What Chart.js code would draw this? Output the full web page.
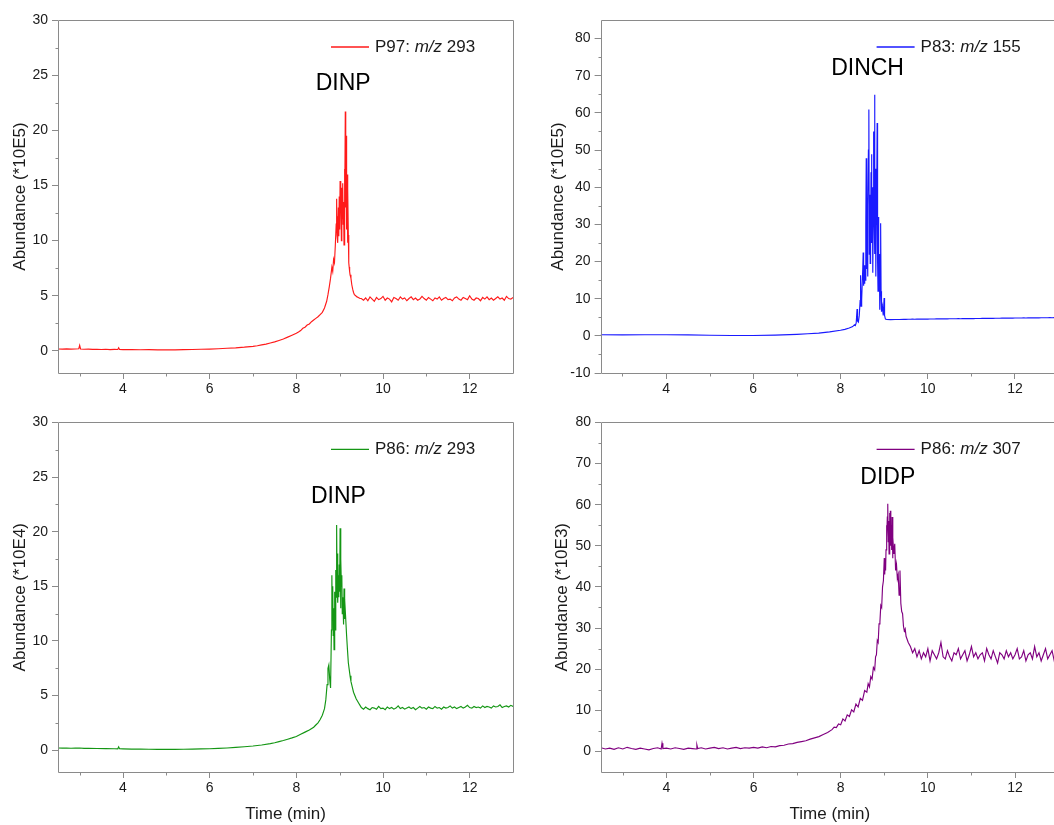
<!DOCTYPE html>
<html><head><meta charset="utf-8">
<script src="https://cdn.jsdelivr.net/npm/chart.js@4.4.1/dist/chart.umd.min.js"></script>
<style>
html,body{margin:0;padding:0;background:#fff;overflow:hidden;width:1054px;height:825px;position:relative;}
canvas{position:absolute;}
</style></head><body>
<canvas id="c1" width="527" height="410" style="left:0px;top:0px"></canvas>
<canvas id="c2" width="540" height="410" style="left:527px;top:0px"></canvas>
<canvas id="c3" width="527" height="415" style="left:0px;top:410px"></canvas>
<canvas id="c4" width="540" height="415" style="left:527px;top:410px"></canvas>
<script>
// ---------- DATA ----------
const legendLabels = ["P97: m/z 293", "P83: m/z 155", "P86: m/z 293", "P86: m/z 307"];
const peakNames = ["DINP", "DINCH", "DINP", "DIDP"];
const yTitles = ["Abundance (*10E5)", "Abundance (*10E5)", "Abundance (*10E4)", "Abundance (*10E3)"];
const xTitle = "Time (min)";
const xMajorTicks = [4, 6, 8, 10, 12];
const xMinorTicks = [3, 5, 7, 9, 11];
const yTicks30 = [0, 5, 10, 15, 20, 25, 30];
const yMinor30 = [2.5, 7.5, 12.5, 17.5, 22.5, 27.5];
const yTicks80neg = [-10, 0, 10, 20, 30, 40, 50, 60, 70, 80];
const yMinor80neg = [-5, 5, 15, 25, 35, 45, 55, 65, 75];
const yTicks80 = [0, 10, 20, 30, 40, 50, 60, 70, 80];
const yMinor80 = [5, 15, 25, 35, 45, 55, 65, 75];

// shared time grid of the plateau after the peak (min)
const plateauTime = [9.50,9.55,9.60,9.65,9.70,9.75,9.80,9.85,9.90,9.95,
10.00,10.05,10.10,10.15,10.20,10.25,10.30,10.35,10.40,10.45,
10.50,10.55,10.60,10.65,10.70,10.75,10.80,10.85,10.90,10.95,
11.00,11.05,11.10,11.15,11.20,11.25,11.30,11.35,11.40,11.45,
11.50,11.55,11.60,11.65,11.70,11.75,11.80,11.85,11.90,11.95,
12.00,12.05,12.10,12.15,12.20,12.25,12.30,12.35,12.40,12.45,
12.50,12.55,12.60,12.65,12.70,12.75,12.80,12.85,12.90,12.95,
13.00];

// P97 m/z 293 (x10E5): [time, abundance] up to 9.47 min
const p97Trace = [[2.5,0.18],[2.6,0.17],[2.7,0.19],[2.8,0.16],[2.9,0.18],[2.98,0.2],[3.0,0.5],[3.02,0.18],[3.1,0.15],[3.2,0.16],[3.3,0.14],[3.4,0.15],[3.5,0.13],[3.6,0.15],[3.7,0.12],[3.8,0.14],[3.88,0.13],[3.9,0.28],[3.92,0.13],[4.0,0.12],[4.2,0.13],[4.4,0.11],[4.6,0.12],[4.8,0.1],[5.0,0.11],[5.2,0.1],[5.4,0.12],[5.6,0.13],[5.8,0.15],[6.0,0.17],[6.2,0.2],[6.4,0.24],[6.6,0.28],[6.8,0.34],[7.0,0.42],[7.1,0.47],[7.2,0.55],[7.3,0.62],[7.4,0.72],[7.5,0.82],[7.6,0.95],[7.7,1.08],[7.8,1.25],[7.9,1.42],[8.0,1.6],[8.05,1.72],[8.1,1.85],[8.15,2.05],[8.2,2.15],[8.25,2.35],[8.3,2.45],[8.35,2.65],[8.4,2.8],[8.45,2.95],[8.5,3.1],[8.55,3.3],[8.6,3.5],[8.65,3.9],[8.7,4.5],[8.73,5.1],[8.76,5.8],[8.79,6.6],[8.82,7.6],[8.84,7.2],[8.86,8.3],[8.88,8.0],[8.9,9.6],[8.92,11.5],[8.93,13.8],[8.94,10.5],[8.95,12.2],[8.96,9.8],[8.97,13.0],[8.98,10.4],[8.99,14.0],[9.0,11.0],[9.01,15.4],[9.02,12.5],[9.03,13.8],[9.04,10.0],[9.05,14.8],[9.06,12.0],[9.07,15.2],[9.08,11.5],[9.09,13.5],[9.1,9.6],[9.11,16.5],[9.12,12.0],[9.13,21.7],[9.14,13.0],[9.15,19.5],[9.16,11.0],[9.17,16.0],[9.18,9.8],[9.19,14.7],[9.2,10.5],[9.21,8.0],[9.22,7.6],[9.23,7.2],[9.24,6.9],[9.26,6.6],[9.28,6.0],[9.3,5.6],[9.32,5.3],[9.34,5.1],[9.37,5.0],[9.4,4.9],[9.43,4.85],[9.47,4.75]];
const p97Plateau = [4.75,4.6,4.8,4.55,4.9,4.7,4.5,4.85,4.65,4.75,4.95,4.6,4.8,4.7,4.45,4.85,4.75,4.6,4.9,4.7,4.8,4.55,4.75,4.9,4.65,4.8,4.6,4.7,4.95,4.75,4.6,4.85,4.7,4.55,4.8,4.7,4.9,4.6,4.75,4.85,4.65,4.7,4.55,4.8,4.9,4.7,4.6,4.85,4.75,4.65,5.0,4.7,4.6,4.8,4.75,4.55,4.85,4.7,4.9,4.65,4.8,4.6,4.75,4.9,4.7,4.8,4.6,4.95,4.75,4.7,4.85];

// P83 m/z 155 (x10E5)
const p83Trace = [[2.5,0.3],[3.0,0.25],[3.5,0.3],[4.0,0.3],[4.5,0.25],[5.0,0.15],[5.5,0.1],[6.0,0.1],[6.5,0.2],[7.0,0.4],[7.25,0.55],[7.5,0.75],[7.75,1.05],[8.0,1.5],[8.1,1.75],[8.2,2.1],[8.28,2.5],[8.32,3.0],[8.34,2.8],[8.36,3.5],[8.38,7.2],[8.39,4.0],[8.41,3.7],[8.43,5.5],[8.45,9.5],[8.46,16.3],[8.47,8.0],[8.48,12.0],[8.49,9.8],[8.51,18.0],[8.52,22.4],[8.53,13.5],[8.54,16.5],[8.55,14.0],[8.56,19.0],[8.57,15.0],[8.58,30.0],[8.59,47.8],[8.6,18.0],[8.61,25.0],[8.62,16.0],[8.63,35.0],[8.64,50.0],[8.65,60.9],[8.66,22.0],[8.67,38.0],[8.68,19.5],[8.69,28.0],[8.7,44.0],[8.71,48.9],[8.72,25.0],[8.73,40.0],[8.74,17.0],[8.75,30.0],[8.76,55.0],[8.77,35.0],[8.78,64.9],[8.79,22.0],[8.8,45.0],[8.81,16.0],[8.82,30.0],[8.83,38.0],[8.84,57.3],[8.85,20.0],[8.86,12.0],[8.87,32.0],[8.88,15.0],[8.89,22.0],[8.9,7.0],[8.91,14.0],[8.92,30.3],[8.93,12.0],[8.94,6.5],[8.96,8.0],[8.98,5.5],[9.0,10.2],[9.01,5.5],[9.03,4.5],[9.06,4.4],[9.15,4.35],[9.25,4.4],[9.35,4.4],[9.45,4.45]];
const p83Plateau = [4.45,4.47,4.46,4.48,4.47,4.49,4.5,4.49,4.51,4.52,4.51,4.53,4.54,4.53,4.55,4.56,4.55,4.57,4.58,4.57,4.59,4.6,4.59,4.61,4.62,4.61,4.63,4.64,4.63,4.65,4.66,4.65,4.67,4.68,4.67,4.69,4.7,4.69,4.71,4.72,4.71,4.73,4.74,4.73,4.75,4.76,4.75,4.77,4.78,4.77,4.79,4.8,4.79,4.81,4.82,4.81,4.83,4.84,4.83,4.85,4.86,4.85,4.87,4.88,4.87,4.88,4.89,4.88,4.9,4.89,4.9];

// P86 m/z 293 (x10E4)
const p86aTrace = [[2.5,0.2],[2.6,0.18],[2.7,0.2],[2.8,0.17],[2.9,0.19],[3.0,0.2],[3.1,0.16],[3.2,0.17],[3.4,0.15],[3.6,0.14],[3.8,0.13],[3.88,0.12],[3.9,0.3],[3.92,0.13],[4.0,0.12],[4.2,0.1],[4.4,0.09],[4.6,0.08],[4.8,0.07],[5.0,0.08],[5.2,0.07],[5.4,0.08],[5.6,0.09],[5.8,0.11],[6.0,0.13],[6.2,0.16],[6.4,0.2],[6.6,0.25],[6.8,0.31],[7.0,0.38],[7.2,0.47],[7.4,0.6],[7.5,0.68],[7.6,0.78],[7.7,0.88],[7.8,1.0],[7.9,1.12],[8.0,1.25],[8.1,1.45],[8.2,1.65],[8.3,1.85],[8.4,2.1],[8.45,2.3],[8.5,2.5],[8.55,2.8],[8.6,3.2],[8.65,3.8],[8.68,4.6],[8.71,6.0],[8.73,7.5],[8.75,7.8],[8.77,6.5],[8.79,5.7],[8.81,11.0],[8.82,16.0],[8.83,12.0],[8.84,15.0],[8.85,10.5],[8.86,13.0],[8.87,9.2],[8.88,12.5],[8.89,14.5],[8.9,11.0],[8.91,16.5],[8.92,14.0],[8.93,20.6],[8.94,15.5],[8.95,18.0],[8.96,13.5],[8.97,16.0],[8.98,14.0],[8.99,17.0],[9.0,14.5],[9.01,20.3],[9.02,13.0],[9.03,17.5],[9.04,15.0],[9.05,16.0],[9.06,12.5],[9.07,14.0],[9.08,13.0],[9.09,11.5],[9.1,14.8],[9.11,12.0],[9.12,13.8],[9.14,12.0],[9.16,10.5],[9.18,9.2],[9.2,8.0],[9.22,7.4],[9.24,6.8],[9.26,6.3],[9.29,5.8],[9.32,5.3],[9.35,5.0],[9.38,4.7],[9.41,4.5],[9.44,4.3],[9.47,4.1]];
const p86aPlateau = [3.9,3.75,3.95,3.8,3.7,3.9,3.85,3.75,4.0,3.8,3.85,3.7,3.95,3.8,3.9,3.75,3.85,4.05,3.8,3.9,3.75,3.85,3.95,3.8,3.9,3.7,3.85,4.0,3.85,3.9,3.75,3.95,3.85,3.8,4.0,3.85,3.9,3.75,3.95,3.85,3.9,4.05,3.85,3.95,3.8,3.9,4.0,3.85,3.95,4.1,3.9,3.85,4.0,3.9,3.95,3.85,4.05,3.9,4.0,3.95,3.85,4.05,3.95,4.0,4.15,3.9,4.0,4.05,3.95,4.1,4.0];

// P86 m/z 307 (x10E3)
const p86bTrace = [[2.5,0.9],[2.6,0.6],[2.7,0.8],[2.8,0.5],[2.9,0.9],[3.0,0.6],[3.1,1.0],[3.2,0.7],[3.3,0.5],[3.4,0.8],[3.5,0.6],[3.6,0.4],[3.7,0.7],[3.8,0.9],[3.88,0.6],[3.9,2.0],[3.92,0.7],[4.0,0.8],[4.1,0.6],[4.2,0.9],[4.3,0.7],[4.4,0.5],[4.5,0.8],[4.6,0.7],[4.68,0.6],[4.7,1.6],[4.72,0.7],[4.8,0.9],[4.9,0.6],[5.0,0.8],[5.1,1.0],[5.2,0.7],[5.3,0.9],[5.4,0.6],[5.5,0.8],[5.6,1.0],[5.7,0.7],[5.8,0.9],[5.9,0.8],[6.0,1.0],[6.1,0.8],[6.2,1.1],[6.3,0.9],[6.4,1.2],[6.5,1.1],[6.6,1.4],[6.7,1.5],[6.8,1.8],[6.9,1.9],[7.0,2.2],[7.1,2.4],[7.2,2.6],[7.3,3.0],[7.4,3.3],[7.5,3.6],[7.6,4.1],[7.7,4.6],[7.8,5.3],[7.85,5.9],[7.9,5.8],[7.95,6.7],[8.0,6.5],[8.05,7.9],[8.1,7.4],[8.15,8.9],[8.2,8.5],[8.25,10.1],[8.3,9.6],[8.35,11.5],[8.4,10.8],[8.45,12.9],[8.5,12.4],[8.55,14.8],[8.6,14.4],[8.63,16.5],[8.66,15.7],[8.69,18.2],[8.72,17.6],[8.75,20.4],[8.78,19.8],[8.8,23.0],[8.82,23.5],[8.84,27.0],[8.86,26.5],[8.88,31.0],[8.9,31.5],[8.92,35.5],[8.94,35.0],[8.96,40.0],[8.98,41.5],[9.0,47.0],[9.01,43.0],[9.02,46.9],[9.03,44.0],[9.04,49.0],[9.05,55.0],[9.06,52.0],[9.07,57.0],[9.08,60.2],[9.09,51.0],[9.1,56.0],[9.11,48.0],[9.12,58.0],[9.13,52.0],[9.14,58.5],[9.15,50.0],[9.16,55.0],[9.17,49.0],[9.18,57.0],[9.19,47.0],[9.2,52.0],[9.22,48.0],[9.24,50.5],[9.26,44.0],[9.28,45.5],[9.3,42.0],[9.32,43.0],[9.34,38.0],[9.36,44.0],[9.38,36.0],[9.4,34.0],[9.42,33.5],[9.44,30.5],[9.46,29.3],[9.48,29.8]];
const p86bPlateau = [28.0,26.5,25.5,24.0,25.0,23.0,24.5,22.5,24.0,23.0,25.0,22.0,24.5,23.5,22.5,24.0,26.5,23.0,22.5,24.5,23.0,22.0,24.0,23.5,25.0,22.5,23.5,24.5,22.0,23.5,25.5,23.0,24.0,22.5,23.5,24.0,22.0,25.0,23.5,22.5,24.5,23.0,21.5,24.0,23.5,22.5,24.5,23.0,24.0,22.5,23.5,25.0,22.5,23.0,24.5,22.0,23.5,24.0,22.5,25.5,23.0,24.0,22.0,23.5,25.0,22.5,23.5,24.5,22.0,23.5,24.0];

// ---------- RENDER ----------
const FONT = '"Liberation Sans", Arial, Helvetica, sans-serif';
const FRAME = '#8a8a8a';
const TEXT = '#1a1a1a';
Chart.defaults.font.family = FONT;

function buildSeries(trace, plateau) {
  const pts = trace.map(p => ({x: p[0], y: p[1]}));
  const n = Math.min(plateauTime.length, plateau.length);
  for (let i = 0; i < n; i++) pts.push({x: plateauTime[i], y: plateau[i]});
  return pts;
}

const decor = {
  id: 'decor',
  afterDraw(chart) {
    const o = chart.options.plugins.decor;
    const {ctx, chartArea: a, scales: {x, y}} = chart;
    ctx.save();
    ctx.strokeStyle = FRAME; ctx.lineWidth = 1;
    const L = Math.round(a.left) + 0.5, R = Math.round(a.right) + 0.5,
          T = Math.round(a.top) + 0.5, B = Math.round(a.bottom) + 0.5;
    ctx.beginPath();
    ctx.moveTo(L, T); ctx.lineTo(R, T); ctx.lineTo(R, B); ctx.lineTo(L, B); ctx.closePath();
    ctx.stroke();
    ctx.beginPath();
    xMinorTicks.forEach(v => { const px = Math.round(x.getPixelForValue(v)) + 0.5; ctx.moveTo(px, B); ctx.lineTo(px, B + 3); });
    o.yMinor.forEach(v => { const py = Math.round(y.getPixelForValue(v)) + 0.5; ctx.moveTo(L, py); ctx.lineTo(L - 3, py); });
    ctx.stroke();
    const ly = a.top + 27;
    ctx.strokeStyle = o.color; ctx.lineWidth = 1.3;
    ctx.beginPath(); ctx.moveTo(a.right - 182, ly); ctx.lineTo(a.right - 144, ly); ctx.stroke();
    const parts = o.legend.split('m/z');
    ctx.fillStyle = TEXT; ctx.textBaseline = 'middle'; ctx.textAlign = 'left';
    let tx = a.right - 138;
    ctx.font = '17px ' + FONT; ctx.fillText(parts[0], tx, ly); tx += ctx.measureText(parts[0]).width;
    ctx.font = 'italic 17px ' + FONT; ctx.fillText('m/z', tx, ly); tx += ctx.measureText('m/z').width;
    ctx.font = '17px ' + FONT; ctx.fillText(parts[1], tx, ly);
    ctx.font = '23px ' + FONT; ctx.textAlign = 'center';
    ctx.fillStyle = '#000';
    ctx.fillText(o.peak, x.getPixelForValue(o.peakX), y.getPixelForValue(o.peakY));
    ctx.restore();
  }
};

function panel(p) {
  return new Chart(document.getElementById(p.id), {
    type: 'line',
    data: {datasets: [{label: p.legend, data: buildSeries(p.trace, p.plateau), borderColor: p.color,
      borderWidth: 1.15, pointRadius: 0, tension: 0, fill: false}]},
    options: {
      responsive: false, animation: false, devicePixelRatio: 1, parsing: false,
      layout: {padding: {left: 0, right: p.padR, top: p.padT, bottom: 0}},
      plugins: {legend: {display: false}, tooltip: {enabled: false},
        decor: {color: p.color, legend: p.legend, peak: p.peak, peakX: p.peakX, peakY: p.peakY, yMinor: p.yMinor}},
      scales: {
        x: {type: 'linear', min: 2.5, max: 13,
          afterBuildTicks: s => { s.ticks = xMajorTicks.map(v => ({value: v})); },
          afterFit: s => { s.height = p.xH; },
          grid: {display: true, drawOnChartArea: false, drawTicks: true, tickLength: 6, color: FRAME, tickColor: FRAME},
          border: {display: false},
          ticks: {font: {size: 14}, color: TEXT, padding: 2, maxRotation: 0, autoSkip: false, callback: v => String(v)},
          title: {display: p.showX, text: xTitle, font: {size: 17}, color: TEXT, padding: {top: 0, bottom: 0}}},
        y: {type: 'linear', min: p.yMin, max: p.yMax,
          afterBuildTicks: s => { s.ticks = p.yTicks.map(v => ({value: v})); },
          afterFit: s => { s.width = p.yW; },
          grid: {display: true, drawOnChartArea: false, drawTicks: true, tickLength: 6, color: FRAME, tickColor: FRAME},
          border: {display: false},
          ticks: {font: {size: 14}, color: TEXT, padding: 4, autoSkip: false, callback: v => String(v)},
          title: {display: true, text: p.yTitle, font: {size: 17}, color: TEXT, padding: {top: p.yTitlePad, bottom: 0}}}
      }
    },
    plugins: [decor]
  });
}

panel({id: 'c1', trace: p97Trace, plateau: p97Plateau, color: '#ff1a1a', legend: legendLabels[0], peak: peakNames[0],
  peakX: 9.08, peakY: 24.2, yMin: -2, yMax: 30, yTicks: yTicks30, yMinor: yMinor30, yTitle: yTitles[0],
  yW: 58, padR: 14, padT: 20, xH: 37, showX: false, yTitlePad: 10.5});
panel({id: 'c2', trace: p83Trace, plateau: p83Plateau, color: '#1a1aff', legend: legendLabels[1], peak: peakNames[1],
  peakX: 8.62, peakY: 71.8, yMin: -10, yMax: 85, yTicks: yTicks80neg, yMinor: yMinor80neg, yTitle: yTitles[1],
  yW: 73.6, padR: 8.4, padT: 20, xH: 37, showX: false, yTitlePad: 21.5});
panel({id: 'c3', trace: p86aTrace, plateau: p86aPlateau, color: '#149614', legend: legendLabels[2], peak: peakNames[2],
  peakX: 8.97, peakY: 23.2, yMin: -2, yMax: 30, yTicks: yTicks30, yMinor: yMinor30, yTitle: yTitles[2],
  yW: 58, padR: 14, padT: 9, xH: 53, showX: true, yTitlePad: 10.5});
panel({id: 'c4', trace: p86bTrace, plateau: p86bPlateau, color: '#800080', legend: legendLabels[3], peak: peakNames[3],
  peakX: 9.08, peakY: 66.5, yMin: -5, yMax: 80, yTicks: yTicks80, yMinor: yMinor80, yTitle: yTitles[3],
  yW: 74, padR: 8.4, padT: 9, xH: 53, showX: true, yTitlePad: 25});
</script>
</body></html>
